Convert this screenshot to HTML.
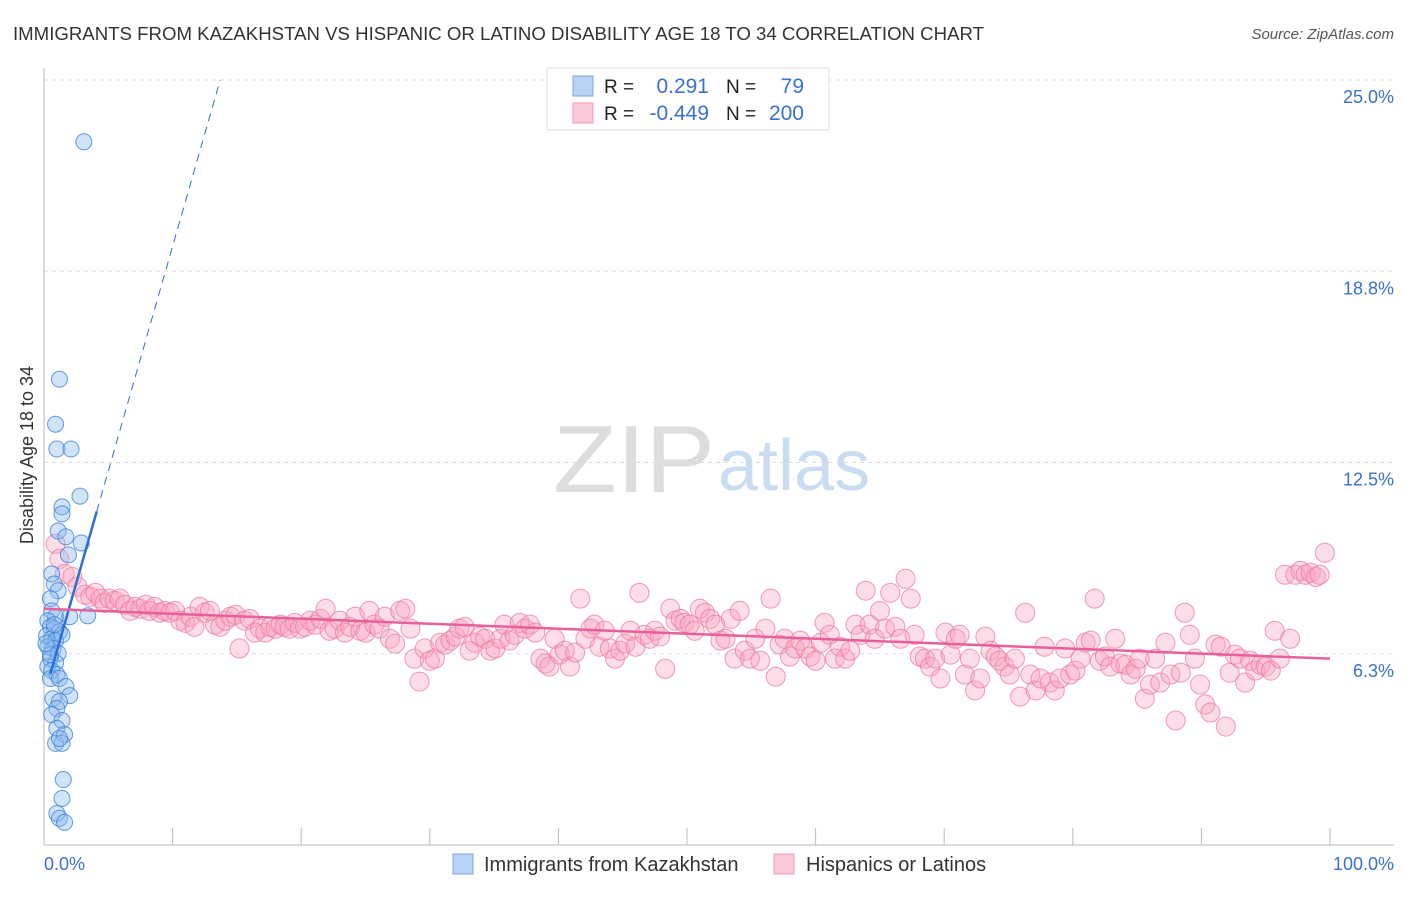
<!DOCTYPE html>
<html><head><meta charset="utf-8"><style>
body{margin:0;background:#fff;font-family:"Liberation Sans",sans-serif}
svg text{font-family:"Liberation Sans",sans-serif}
</style></head><body>
<svg id="chart" width="1406" height="892" viewBox="0 0 1406 892" xmlns="http://www.w3.org/2000/svg">
<text x="13" y="40" font-size="18" fill="#333" textLength="971" lengthAdjust="spacingAndGlyphs">IMMIGRANTS FROM KAZAKHSTAN VS HISPANIC OR LATINO DISABILITY AGE 18 TO 34 CORRELATION CHART</text>
<text x="1394" y="39" font-size="15" fill="#555" text-anchor="end" font-style="italic">Source: ZipAtlas.com</text>
<g>
<text x="553" y="492" font-size="96" fill="#ddd" font-family="Liberation Serif" textLength="162" lengthAdjust="spacingAndGlyphs">ZIP</text>
<text x="718" y="490" font-size="72" fill="#c9dcf2">atlas</text>
</g>
<g id="grid"></g>
<g id="axes"></g>
<g id="pts"></g>
<g id="trend"></g>
<text transform="translate(33,455) rotate(-90)" font-size="18" fill="#333" text-anchor="middle">Disability Age 18 to 34</text>
<text x="44" y="870" font-size="18" fill="#3a70d0">0.0%</text>
<text x="1394" y="870" font-size="18" fill="#3a70d0" text-anchor="end">100.0%</text>
<g>
<rect x="547" y="68" width="282" height="62" fill="#fff" stroke="#ddd"/>
<rect x="573" y="76" width="20" height="20" fill="#b8d4f5" stroke="#7aa6e0"/>
<rect x="573" y="103" width="20" height="20" fill="#fbc8d8" stroke="#f09ab6"/>
<text x="604" y="93" font-size="19" fill="#222">R =</text>
<text x="709" y="93" font-size="21" fill="#3a70d0" text-anchor="end">0.291</text>
<text x="726" y="93" font-size="19" fill="#222">N =</text>
<text x="804" y="93" font-size="21" fill="#3a70d0" text-anchor="end">79</text>
<text x="604" y="120" font-size="19" fill="#222">R =</text>
<text x="709" y="120" font-size="21" fill="#3a70d0" text-anchor="end">-0.449</text>
<text x="726" y="120" font-size="19" fill="#222">N =</text>
<text x="804" y="120" font-size="21" fill="#3a70d0" text-anchor="end">200</text>
</g>
<g>
<rect x="453" y="854" width="20" height="20" fill="#b8d4f5" stroke="#7aa6e0"/>
<text x="484" y="871" font-size="20" fill="#333">Immigrants from Kazakhstan</text>
</g>
<g>
<rect x="774" y="854" width="20" height="20" fill="#fbc8d8" stroke="#f09ab6"/>
<text x="806" y="871" font-size="20" fill="#333">Hispanics or Latinos</text>
</g>
</svg>
<script>
const yTicks=[6.25,12.5,18.75,25];
const yTickLabels=["6.3%","12.5%","18.8%","25.0%"];
const xTicks=[0,10,20,30,40,50,60,70,80,90,100];
const blueX=[3.1,1.2,0.9,1.0,2.1,2.8,1.4,1.4,1.1,1.7,2.9,1.9,0.6,0.8,1.1,0.5,0.6,0.9,3.4,2.0,0.3,0.5,0.8,1.2,0.2,0.6,0.9,1.4,0.3,0.7,1.1,0.5,0.9,0.3,0.6,1.0,0.5,1.2,1.7,2.0,0.7,1.2,1.0,0.6,1.4,1.0,1.6,0.9,1.4,1.2,1.5,1.4,1.0,1.2,1.6,0.5,0.15,0.8];
const blueY=[22.98,15.22,13.75,12.94,12.94,11.40,11.05,10.82,10.26,10.07,9.87,9.48,8.86,8.53,8.31,8.05,7.65,7.46,7.49,7.46,7.33,7.13,7.07,6.97,6.84,6.74,6.68,6.87,6.48,6.42,6.26,6.09,5.96,5.83,5.70,5.57,5.44,5.44,5.18,4.88,4.78,4.69,4.46,4.26,4.07,3.81,3.61,3.32,3.32,3.48,2.14,1.52,1.03,0.87,0.74,6.22,6.58,7.20];
const pinkX=[0.9,1.2,1.6,2.2,2.6,3.2,3.6,4.0,4.4,4.7,5.1,5.5,5.9,6.3,6.7,7.1,7.5,7.9,8.2,8.6,9.0,9.4,9.8,10.2,10.6,11.0,11.4,11.7,12.1,12.5,12.9,13.3,13.7,14.1,14.5,14.9,15.2,15.6,16.0,16.4,16.8,17.2,17.6,18.0,18.4,18.7,19.1,19.5,19.9,20.3,20.7,21.1,21.5,21.9,22.2,22.6,23.0,23.4,23.8,24.2,24.6,25.0,25.3,25.7,26.1,26.5,26.9,27.3,27.7,28.1,28.5,28.8,29.2,29.6,30.0,30.4,30.8,31.2,31.6,32.0,32.3,32.7,33.1,33.5,33.9,34.3,34.7,35.1,35.5,35.8,36.2,36.6,37.0,37.4,37.8,38.2,38.6,39.0,39.3,39.7,40.1,40.5,40.9,41.3,41.7,42.1,42.5,42.8,43.2,43.6,44.0,44.4,44.8,45.2,45.6,46.0,46.3,46.7,47.1,47.5,47.9,48.3,48.7,49.1,49.5,49.8,50.2,50.6,51.0,51.4,51.8,52.2,52.6,53.0,53.4,53.7,54.1,54.5,54.9,55.3,55.7,56.1,56.5,56.9,57.2,57.6,58.0,58.4,58.8,59.2,59.6,60.0,60.4,60.7,61.1,61.5,61.9,62.3,62.7,63.1,63.5,63.9,64.2,64.6,65.0,65.4,65.8,66.2,66.6,67.0,67.4,67.7,68.1,68.5,68.9,69.3,69.7,70.1,70.5,70.9,71.2,71.6,72.0,72.4,72.8,73.2,73.6,74.0,74.3,74.7,75.1,75.5,75.9,76.3,76.7,77.1,77.5,77.8,78.2,78.6,79.0,79.4,79.8,80.2,80.6,81.0,81.4,81.7,82.1,82.5,82.9,83.3,83.7,84.1,84.5,84.9,85.2,85.6,86.0,86.4,86.8,87.2,87.6,88.0,88.4,88.7,89.1,89.5,89.9,90.3,90.7,91.1,91.5,91.9,92.2,92.6,93.0,93.4,93.8,94.2,94.6,95.0,95.4,95.7,96.1,96.5,96.9,97.3,97.7,98.1,98.5,98.9,99.2,99.6];
const pinkY=[9.84,9.35,8.86,8.76,8.44,8.18,8.11,8.24,8.05,7.91,8.05,7.98,8.05,7.85,7.65,7.78,7.72,7.85,7.65,7.78,7.59,7.65,7.59,7.65,7.33,7.26,7.46,7.13,7.78,7.59,7.65,7.20,7.13,7.33,7.46,7.52,6.42,7.33,7.39,6.94,7.07,6.94,7.13,7.07,7.20,7.13,7.07,7.26,7.07,7.13,7.33,7.20,7.39,7.72,7.00,7.07,7.33,6.94,7.13,7.46,7.00,6.94,7.65,7.20,7.07,7.46,6.74,6.58,7.65,7.72,7.07,6.09,5.34,6.42,6.02,6.09,6.61,6.55,6.68,6.81,7.07,7.13,6.35,6.61,6.81,6.74,6.35,6.42,6.74,7.20,6.68,6.87,7.26,7.07,7.20,6.94,6.09,5.93,5.83,6.74,6.22,6.35,5.83,6.29,8.05,6.74,7.07,7.20,6.48,7.00,6.42,6.09,6.35,6.58,7.00,6.48,8.24,6.87,6.74,7.00,6.81,5.76,7.72,7.33,7.39,7.26,7.20,7.00,7.72,7.59,7.39,7.20,6.68,6.74,7.39,6.09,7.65,6.35,6.09,6.74,6.02,7.07,8.05,5.50,6.55,6.74,6.16,6.42,6.68,6.42,6.16,6.02,6.61,7.26,6.87,6.09,6.48,6.09,6.35,7.20,6.87,8.31,7.20,6.74,7.65,7.07,8.24,7.13,6.74,8.70,8.05,6.87,6.16,6.09,5.83,6.09,5.44,6.94,6.22,6.74,6.87,5.57,6.09,5.05,5.44,6.81,6.35,6.16,6.02,5.83,5.57,6.09,4.85,7.59,5.57,5.05,5.44,6.48,5.31,5.05,5.44,6.42,5.57,5.70,6.09,6.61,6.68,8.05,6.02,6.16,5.83,6.74,5.93,5.89,5.57,5.76,6.09,4.78,5.24,6.09,5.31,6.61,5.57,4.07,5.63,7.59,6.87,6.09,5.24,4.59,4.33,6.55,6.48,3.87,5.63,6.22,6.09,5.31,6.02,5.70,5.89,5.83,5.70,7.00,6.09,8.83,6.74,8.83,8.96,8.83,8.90,8.76,8.83,9.55];
const blueTrend=[[0.5,5.6],[4.1,10.9],[13.7,25]];
const pinkTrend=[[0,7.72],[100,6.09]];

const NS="http://www.w3.org/2000/svg";
const X0=44,X1=1330,Y0=845,Y25=80;
const sx=p=>X0+(X1-X0)*p/100;
const sy=v=>Y0-(Y0-Y25)*v/25;
function mk(tag,attrs,parent){const e=document.createElementNS(NS,tag);for(const k in attrs)e.setAttribute(k,attrs[k]);parent.appendChild(e);return e;}
const grid=document.getElementById('grid'),axes=document.getElementById('axes'),pts=document.getElementById('pts'),trend=document.getElementById('trend');
yTicks.forEach((t,i)=>{
 const l=mk('line',{x1:X0,x2:1394,y1:sy(t),y2:sy(t),stroke:'#ddd','stroke-dasharray':'4,4'},grid);
 
 
 const tx=mk('text',{x:1394,y:sy(t)+23,'font-size':18,fill:'#3a70d0','text-anchor':'end'},grid);
 tx.textContent=yTickLabels[i];
 
 
});
const ya=mk('line',{x1:X0,x2:X0,y1:68,y2:Y0,stroke:'#bbb'},axes);


const xa=mk('line',{x1:X0,x2:1394,y1:Y0,y2:Y0,stroke:'#bbb'},axes);


xTicks.forEach(t=>{
 const l=mk('line',{x1:sx(t),x2:sx(t),y1:828,y2:Y0,stroke:'#bbb'},axes);
 
 
});
pinkX.forEach((x,i)=>{
 const c=mk('circle',{cx:sx(x),cy:sy(pinkY[i]),r:9.5,fill:'rgba(248,160,190,0.35)',stroke:'rgba(236,120,160,0.75)','stroke-width':1},pts);
 
 
});
blueX.forEach((x,i)=>{
 const c=mk('circle',{cx:sx(x),cy:sy(blueY[i]),r:8,fill:'rgba(140,185,240,0.4)',stroke:'rgba(60,130,220,0.8)','stroke-width':1},pts);
 
 
});
const bs=mk('line',{x1:sx(blueTrend[0][0]),y1:sy(blueTrend[0][1]),x2:sx(blueTrend[1][0]),y2:sy(blueTrend[1][1]),stroke:'#2a6fd8','stroke-width':2.5},trend);


const bd=mk('line',{x1:sx(blueTrend[1][0]),y1:sy(blueTrend[1][1]),x2:sx(blueTrend[2][0]),y2:sy(blueTrend[2][1]),stroke:'#2a6fd8','stroke-width':1,'stroke-dasharray':'8,6'},trend);


const pl=mk('line',{x1:sx(pinkTrend[0][0]),y1:sy(pinkTrend[0][1]),x2:sx(pinkTrend[1][0]),y2:sy(pinkTrend[1][1]),stroke:'#e8609a','stroke-width':2.5},trend);


</script>
</body></html>
